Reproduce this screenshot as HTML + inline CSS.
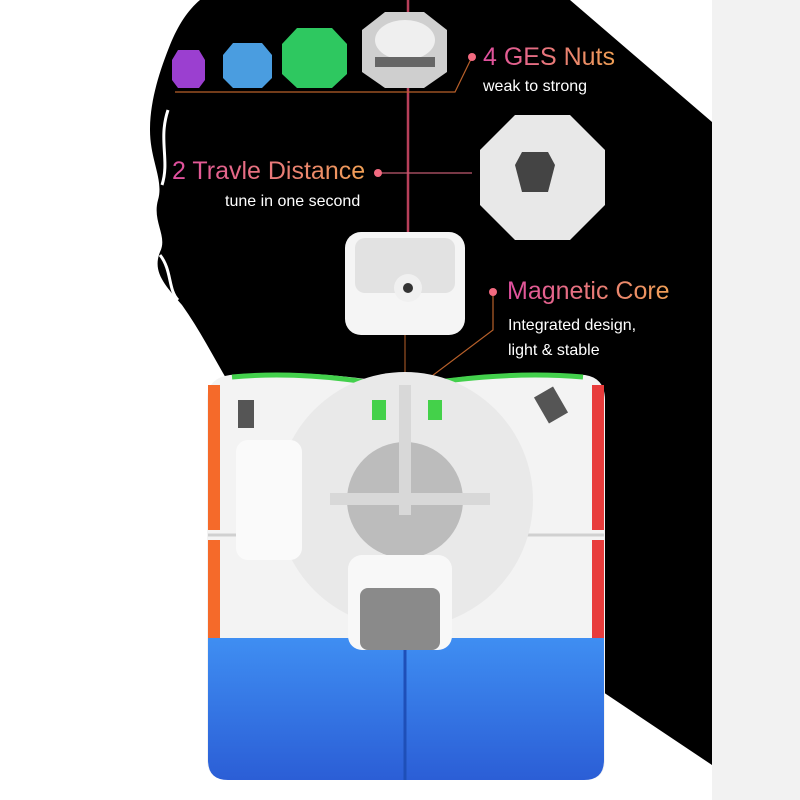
<!DOCTYPE html>
<html><head><meta charset="utf-8"><style>
html,body{margin:0;padding:0;width:800px;height:800px;overflow:hidden;background:#fff;font-family:"Liberation Sans",sans-serif}
.t{position:absolute;white-space:nowrap}
.h{font-size:25px;background:linear-gradient(90deg,#e04ea0,#f0a055);-webkit-background-clip:text;color:transparent}
.s{color:#fff;font-size:16px}
</style></head><body>
<svg width="800" height="800" style="position:absolute;left:0;top:0">
<defs>
<linearGradient id="blue" x1="0" y1="0" x2="0" y2="1"><stop offset="0" stop-color="#3f8ef2"/><stop offset="1" stop-color="#2b5ed6"/></linearGradient>
</defs>
<rect x="712" y="0" width="88" height="800" fill="#f2f2f2"/>
<path d="M200,0 L570,0 L712,122 L712,765 L600,690 L230,385 C215,360 200,330 182,305 C165,285 152,272 160,252 C168,236 152,222 158,200 C164,180 150,160 150,130 C150,100 160,70 170,45 C178,25 188,10 200,0 Z" fill="#000"/>
<path d="M168,110 C158,140 170,160 162,185" stroke="#fff" stroke-width="3" fill="none"/>
<path d="M160,255 C172,270 168,290 178,300" stroke="#fff" stroke-width="3" fill="none"/>
<line x1="408" y1="0" x2="408" y2="300" stroke="#d84a6a" stroke-width="2.5" opacity="0.85"/>
<polygon points="178,50 199,50 205,60 205,80 199,88 178,88 172,80 172,60" fill="#9b3fd0"/>
<polygon points="233,43 262,43 272,55 272,78 262,88 233,88 223,78 223,55" fill="#4a9de0"/>
<polygon points="297,28 332,28 347,44 347,74 332,88 297,88 282,74 282,44" fill="#2ec860"/>
<polygon points="385,12 424,12 447,30 447,72 424,88 385,88 362,72 362,30" fill="#cfcfcf"/>
<ellipse cx="405" cy="40" rx="30" ry="20" fill="#efefef"/>
<rect x="375" y="57" width="60" height="10" fill="#666"/>
<path d="M175,92 L455,92 L472,57" stroke="#b8602a" fill="none" stroke-width="1.2"/>
<circle cx="472" cy="57" r="4" fill="#f26a80"/>
<polygon points="515,115 570,115 605,150 605,205 570,240 515,240 480,205 480,150" fill="#e8e8e8"/>
<path d="M522,152 L548,152 L555,165 L548,192 L522,192 L515,165 Z" fill="#444"/>
<line x1="378" y1="173" x2="472" y2="173" stroke="#c05a70" stroke-width="1.2"/>
<circle cx="378" cy="173" r="4" fill="#f26a80"/>
<rect x="345" y="232" width="120" height="103" rx="16" fill="#f5f5f5"/>
<rect x="355" y="238" width="100" height="55" rx="10" fill="#e2e2e2"/>
<circle cx="408" cy="288" r="14" fill="#f0f0f0"/>
<circle cx="408" cy="288" r="5" fill="#333"/>
<path d="M493,292 L493,330 L420,385" stroke="#b8602a" fill="none" stroke-width="1.2"/>
<circle cx="493" cy="292" r="4" fill="#f26a80"/>
<line x1="405" y1="335" x2="405" y2="380" stroke="#b8602a" stroke-width="1"/>
<path d="M230,375 Q310,368 405,385 Q500,368 585,375 Q605,378 605,400 L605,760 Q605,780 585,780 L230,780 Q207,780 207,760 L207,400 Q207,378 230,375 Z" fill="#f3f3f3"/>
<path d="M214,385 L214,530 M214,540 L214,640" stroke="#f56a2a" stroke-width="12"/>
<path d="M598,385 L598,530 M598,540 L598,640" stroke="#e83c3c" stroke-width="12"/>
<path d="M232,377 Q310,370 400,388 Q500,370 583,377" stroke="#43d04c" stroke-width="5" fill="none"/>
<path d="M208,638 L604,638 L604,760 Q604,780 584,780 L228,780 Q208,780 208,760 Z" fill="url(#blue)"/>
<line x1="405" y1="640" x2="405" y2="780" stroke="#1e4fb8" stroke-width="3"/>
<line x1="208" y1="535" x2="604" y2="535" stroke="#d0d0d0" stroke-width="3"/>
<circle cx="405" cy="500" r="128" fill="#e9e9e9"/>
<circle cx="405" cy="500" r="58" fill="#a8a8a8" opacity="0.7"/>
<rect x="330" y="493" width="160" height="12" fill="#d8d8d8"/>
<rect x="399" y="385" width="12" height="130" fill="#d8d8d8"/>
<rect x="348" y="555" width="104" height="95" rx="14" fill="#f8f8f8"/>
<rect x="360" y="588" width="80" height="62" rx="8" fill="#8a8a8a"/>
<rect x="236" y="440" width="66" height="120" rx="12" fill="#fafafa"/>
<rect x="372" y="400" width="14" height="20" fill="#44d14a"/>
<rect x="428" y="400" width="14" height="20" fill="#44d14a"/>
<rect x="238" y="400" width="16" height="28" fill="#555"/>
<rect x="540" y="390" width="22" height="30" fill="#555" transform="rotate(-30 551 405)"/>
</svg>
<div class="t h" style="left:483px;top:43px">4 GES Nuts</div>
<div class="t s" style="left:483px;top:78px">weak to strong</div>
<div class="t h" style="left:172px;top:157px">2 Travle Distance</div>
<div class="t s" style="left:225px;top:193px">tune in one second</div>
<div class="t h" style="left:507px;top:277px">Magnetic Core</div>
<div class="t s" style="left:508px;top:317px">Integrated design,</div>
<div class="t s" style="left:508px;top:342px">light &amp; stable</div>
</body></html>
